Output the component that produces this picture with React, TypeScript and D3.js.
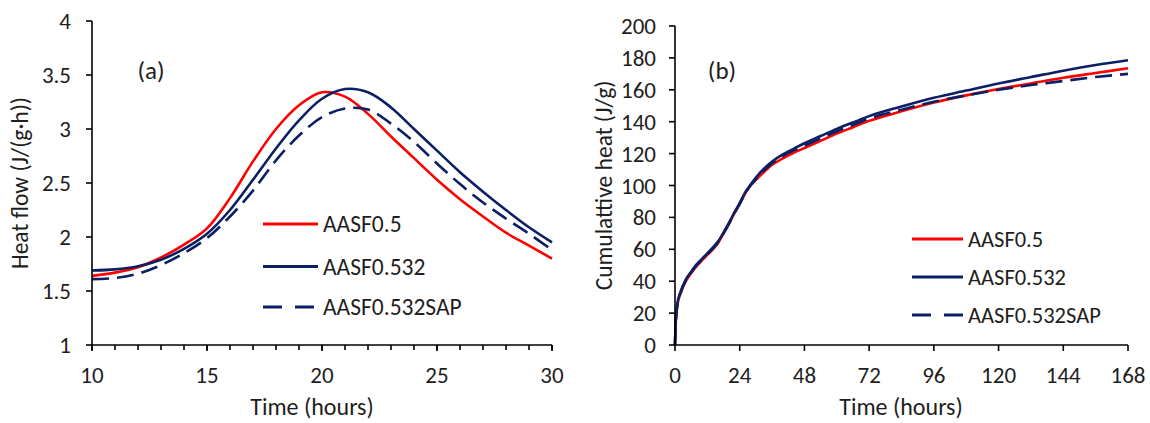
import React from "react";
import * as d3 from "d3";

// ---------- Panel (a): heat flow ----------
const flowTime = [10, 11, 12, 13, 14, 15, 16, 17, 18, 19, 20, 21, 22, 23, 24, 25, 26, 27, 28, 29, 30];
const flowAASF05 = [1.64, 1.67, 1.72, 1.81, 1.93, 2.08, 2.36, 2.7, 3.0, 3.22, 3.34, 3.3, 3.14, 2.93, 2.73, 2.53, 2.35, 2.19, 2.04, 1.92, 1.8];
const flowAASF0532 = [1.69, 1.7, 1.73, 1.79, 1.89, 2.03, 2.25, 2.53, 2.82, 3.08, 3.28, 3.37, 3.34, 3.2, 3.0, 2.8, 2.6, 2.42, 2.25, 2.09, 1.95];
const flowAASF0532SAP = [1.61, 1.62, 1.66, 1.74, 1.85, 1.99, 2.19, 2.43, 2.71, 2.94, 3.11, 3.19, 3.18, 3.05, 2.88, 2.68, 2.49, 2.32, 2.17, 2.03, 1.88];
const flowXTicks = [10, 15, 20, 25, 30];
const flowYTicks = [1, 1.5, 2, 2.5, 3, 3.5, 4];

// ---------- Panel (b): cumulative heat ----------
const cumTime = [0, 0.3, 1, 2, 4, 6, 8, 10, 12, 14, 16, 18, 20, 22, 24, 26, 28, 30, 33, 36, 40, 44, 48, 54, 60, 66, 72, 84, 96, 108, 120, 132, 144, 156, 168];
const cumAASF0532 = [0, 16, 27, 33, 41, 46, 50.5, 54, 57.5, 61, 65, 70.5, 76.5, 83, 89, 95.5, 100.5, 105, 110.5, 115, 119.5, 123, 126.5, 131, 135.5, 139.5, 143.5, 149.5, 155, 159.5, 164, 168, 172, 175.5, 178.5];
const cumAASF05 = [0, 15, 26, 32, 40, 45, 49.5, 53, 56.5, 60, 64, 70, 76, 82.5, 88.5, 95, 100, 103.5, 108.5, 113, 117, 120.5, 123.5, 128, 132.5, 136.5, 140.5, 146.5, 152, 156.5, 160.5, 164, 167.5, 170.5, 173.5];
const cumAASF0532SAP = [0, 15.5, 26.5, 32.5, 40.5, 45.5, 50, 53.5, 57, 60.5, 64.5, 70, 76, 82.5, 88.5, 95, 100, 104, 109.5, 114, 118.5, 122, 125, 129.5, 134, 138, 142, 147.5, 152.5, 156.5, 160, 163, 165.5, 168, 170];
const cumXTicks = [0, 24, 48, 72, 96, 120, 144, 168];
const cumYTicks = [0, 20, 40, 60, 80, 100, 120, 140, 160, 180, 200];

const seriesNames = ["AASF0.5", "AASF0.532", "AASF0.532SAP"];

const RED = "#ff0000";
const NAVY = "#0a1f64";
const TEXT = "#1e1e1e";
const FONT = "Carlito, Calibri, Lato, sans-serif";

const styles = [
  { color: RED, dash: undefined as string | undefined },
  { color: NAVY, dash: undefined as string | undefined },
  { color: NAVY, dash: "17,8" },
];

function zip(xs: number[], ys: number[]): [number, number][] {
  return xs.map((x, i) => [x, ys[i]]);
}

type PanelProps = {
  x: d3.ScaleLinear<number, number>;
  y: d3.ScaleLinear<number, number>;
  xTicks: number[];
  xMinor: number[];
  yTicks: number[];
  series: [number, number][][];
  curve: d3.CurveFactory;
  yTitle: string;
  xTitleX: number;
  yTitleX: number;
  label: string;
  labelX: number;
  yLabelEnd: number;
  legendX: number;
  legendY: number[];
  legendLen: number;
  legendFont: number;
};

function Panel(p: PanelProps) {
  const line = d3
    .line<[number, number]>()
    .x((d) => p.x(d[0]))
    .y((d) => p.y(d[1]))
    .curve(p.curve);
  const [x0, x1] = p.x.range();
  const [y0, y1] = p.y.range();
  const order = [0, 2, 1];
  return (
    <g>
      {order.map((i) => (
        <path
          key={i}
          d={line(p.series[i]) || ""}
          fill="none"
          stroke={styles[i].color}
          strokeWidth={2.6}
          strokeDasharray={styles[i].dash}
        />
      ))}
      <line x1={x0} x2={x0} y1={y1} y2={y0} stroke="#000" strokeWidth={1.6} />
      <line x1={x0} x2={x1} y1={y0} y2={y0} stroke="#000" strokeWidth={1.6} />
      {p.yTicks.map((t) => (
        <g key={"y" + t}>
          <line x1={x0 - 6} x2={x0} y1={p.y(t)} y2={p.y(t)} stroke="#000" strokeWidth={1.6} />
          <text x={p.yLabelEnd} y={p.y(t)} dy="0.35em" textAnchor="end" fontSize={23} fill={TEXT} fontFamily={FONT}>
            {String(t)}
          </text>
        </g>
      ))}
      {p.xMinor.map((t) => (
        <line key={"m" + t} x1={p.x(t)} x2={p.x(t)} y1={y0} y2={y0 + 5} stroke="#000" strokeWidth={1.6} />
      ))}
      {p.xTicks.map((t) => (
        <g key={"x" + t}>
          <line x1={p.x(t)} x2={p.x(t)} y1={y0} y2={y0 + 6} stroke="#000" strokeWidth={1.6} />
          <text x={p.x(t)} y={383} textAnchor="middle" fontSize={23} fill={TEXT} fontFamily={FONT}>
            {t}
          </text>
        </g>
      ))}
      <text x={p.xTitleX} y={415} textAnchor="middle" fontSize={24} fill={TEXT} fontFamily={FONT}>
        Time (hours)
      </text>
      <text
        transform={`translate(${p.yTitleX},${(y0 + y1) / 2}) rotate(-90)`}
        textAnchor="middle"
        fontSize={23.5}
        fill={TEXT}
        fontFamily={FONT}
      >
        {p.yTitle}
      </text>
      <text x={p.labelX} y={70} dy="0.35em" textAnchor="middle" fontSize={25} fill={TEXT} fontFamily={FONT}>
        {p.label}
      </text>
      {seriesNames.map((n, i) => (
        <g key={n}>
          <line
            x1={p.legendX}
            x2={p.legendX + p.legendLen}
            y1={p.legendY[i]}
            y2={p.legendY[i]}
            stroke={styles[i].color}
            strokeWidth={3}
            strokeDasharray={styles[i].dash ? "19,13" : undefined}
          />
          <text
            x={p.legendX + p.legendLen + 5}
            y={p.legendY[i]}
            dy="0.35em"
            fontSize={p.legendFont}
            fill={TEXT}
            fontFamily={FONT}
          >
            {n}
          </text>
        </g>
      ))}
    </g>
  );
}

export default function App() {
  const xA = d3.scaleLinear().domain([10, 30]).range([92, 552]);
  const yA = d3.scaleLinear().domain([1, 4]).range([345, 21]);
  const xB = d3.scaleLinear().domain([0, 168]).range([675, 1128]);
  const yB = d3.scaleLinear().domain([0, 200]).range([345, 26]);

  const seriesA = [zip(flowTime, flowAASF05), zip(flowTime, flowAASF0532), zip(flowTime, flowAASF0532SAP)];
  const seriesB = [zip(cumTime, cumAASF05), zip(cumTime, cumAASF0532), zip(cumTime, cumAASF0532SAP)];

  return (
    <svg width={1150} height={423} style={{ position: "absolute", left: 0, top: 0, background: "#fff" }}>
      <rect width={1150} height={423} fill="#fff" />
      <Panel
        x={xA}
        y={yA}
        xTicks={flowXTicks}
        xMinor={d3.range(10, 31, 1)}
        yTicks={flowYTicks}
        series={seriesA}
        curve={d3.curveCatmullRom.alpha(0.5)}
        yTitle="Heat flow (J/(g·h))"
        xTitleX={312}
        yTitleX={28}
        label="(a)"
        labelX={151}
        yLabelEnd={71}
        legendX={263}
        legendY={[224, 266.5, 307]}
        legendLen={55}
        legendFont={23.5}
      />
      <Panel
        x={xB}
        y={yB}
        xTicks={cumXTicks}
        xMinor={[]}
        yTicks={cumYTicks}
        series={seriesB}
        curve={d3.curveMonotoneX}
        yTitle="Cumulattive heat (J/g)"
        xTitleX={901}
        yTitleX={612}
        label="(b)"
        labelX={722}
        yLabelEnd={656}
        legendX={912}
        legendY={[239, 277, 315]}
        legendLen={51}
        legendFont={22.5}
      />
    </svg>
  );
}
